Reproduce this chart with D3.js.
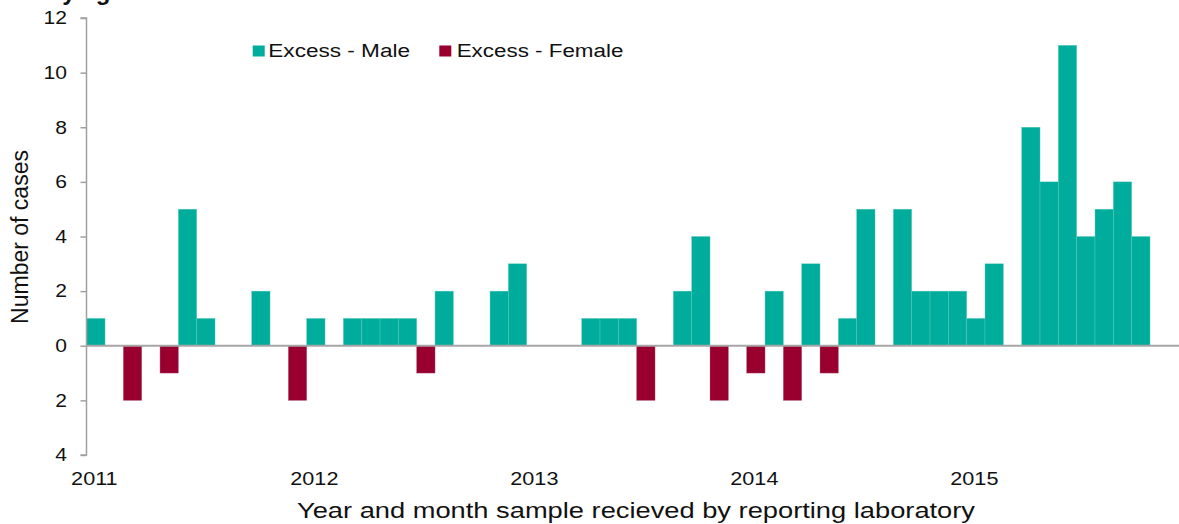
<!DOCTYPE html>
<html>
<head>
<meta charset="utf-8">
<script src="https://cdn.jsdelivr.net/npm/d3@7"></script>
<style>
  html, body { margin: 0; padding: 0; background: #fff; }
  svg { display: block; font-family: "Liberation Sans", Arial, sans-serif; }
</style>
</head>
<body>
<svg id="chart" width="1179" height="524"></svg>
<script>
// ---- Data ----
const months = [
  "2011-01","2011-02","2011-03","2011-04","2011-05","2011-06","2011-07","2011-08","2011-09","2011-10","2011-11","2011-12",
  "2012-01","2012-02","2012-03","2012-04","2012-05","2012-06","2012-07","2012-08","2012-09","2012-10","2012-11","2012-12",
  "2013-01","2013-02","2013-03","2013-04","2013-05","2013-06","2013-07","2013-08","2013-09","2013-10","2013-11","2013-12",
  "2014-01","2014-02","2014-03","2014-04","2014-05","2014-06","2014-07","2014-08","2014-09","2014-10","2014-11","2014-12",
  "2015-01","2015-02","2015-03","2015-04","2015-05","2015-06","2015-07","2015-08","2015-09","2015-10","2015-11","2015-12"
];
const excessMale = [
  1,0,0,0,0,5,1,0,0,2,0,0,
  1,0,1,1,1,1,0,2,0,0,2,3,
  0,0,0,1,1,1,0,0,2,4,0,0,
  0,2,0,3,0,1,5,0,5,2,2,2,
  1,3,0,8,6,11,4,5,6,4,0,0
];
const excessFemale = [
  0,0,2,0,1,0,0,0,0,0,0,2,
  0,0,0,0,0,0,1,0,0,0,0,0,
  0,0,0,0,0,0,2,0,0,0,2,0,
  1,0,2,0,1,0,0,0,0,0,0,0,
  0,0,0,0,0,0,0,0,0,0,0,0
];
const yearTicks = ["2011-01","2012-01","2013-01","2014-01","2015-01"];
const yearLabels = ["2011","2012","2013","2014","2015"];
const yTicks = [-4,-2,0,2,4,6,8,10,12];
const seriesNames = ["Excess - Male", "Excess - Female"];
const colors = ["#00ad9d", "#990030"];

// ---- Layout ----
const svg = d3.select("#chart");
const x0 = 86.7, step = 18.333;
const x = d3.scaleBand().domain(months).range([x0, x0 + step * months.length]).padding(0);
const y = d3.scaleLinear().domain([-4, 12]).range([455, 18]);
const SX = 1.17; // horizontal text stretch of the reference

function stretchedText(g, tx, ty, txt, opts) {
  const t = g.append("text")
    .attr("transform", `translate(${tx},${ty}) scale(${opts.sx || SX},1)`)
    .attr("font-size", opts.size)
    .attr("text-anchor", opts.anchor || "start")
    .attr("fill", opts.fill || "#111")
    .text(txt);
  if (opts.weight) t.attr("font-weight", opts.weight);
  return t;
}

// partially visible title (cut off at top in the reference)
svg.append("text").attr("x", 45).attr("y", 0).attr("font-size", 24)
  .attr("font-weight", "bold").attr("fill", "#111").text("By age");

// bars
svg.append("g").selectAll("rect.m")
  .data(months.map((m, i) => ({m, v: excessMale[i]})).filter(d => d.v > 0))
  .join("rect")
  .attr("x", d => x(d.m)).attr("width", x.bandwidth())
  .attr("y", d => y(d.v)).attr("height", d => y(0) - y(d.v))
  .attr("fill", colors[0])
  .attr("stroke", "#5ccbbf").attr("stroke-width", 0.4);

svg.append("g").selectAll("rect.f")
  .data(months.map((m, i) => ({m, v: excessFemale[i]})).filter(d => d.v > 0))
  .join("rect")
  .attr("x", d => x(d.m)).attr("width", x.bandwidth())
  .attr("y", y(0)).attr("height", d => y(-d.v) - y(0))
  .attr("fill", colors[1])
  .attr("stroke", "#a85a72").attr("stroke-width", 0.4);

// zero line
svg.append("line")
  .attr("x1", x0).attr("x2", 1179)
  .attr("y1", y(0)).attr("y2", y(0))
  .attr("stroke", "#a6a6a6").attr("stroke-width", 2);

// y axis
const yAxis = d3.axisLeft(y).tickValues(yTicks).tickSize(6).tickFormat(d => Math.abs(d));
const gy = svg.append("g").attr("transform", `translate(${x0 - 0.2},0)`).call(yAxis);
gy.select(".domain").attr("stroke", "#a0a0a0").attr("stroke-width", 1.5).attr("d", `M-6,${y(12)}H0V${y(-4)}H-6`);
gy.selectAll(".tick line").attr("stroke", "#a0a0a0").attr("stroke-width", 1.5);
gy.selectAll(".tick text").remove();
yTicks.forEach(v => {
  stretchedText(svg, 67, y(v) + 6.3, String(Math.abs(v)), {size: 18, anchor: "end"});
});

// x year labels
yearTicks.forEach((m, i) => {
  stretchedText(svg, x(m) + x.bandwidth() / 2 - 1.5, 485, yearLabels[i], {size: 18.5, anchor: "middle"});
});

// axis titles
svg.append("text")
  .attr("x", 636).attr("y", 518)
  .attr("font-size", 22).attr("text-anchor", "middle").attr("fill", "#111")
  .attr("textLength", 678).attr("lengthAdjust", "spacingAndGlyphs")
  .text("Year and month sample recieved by reporting laboratory");

svg.append("text")
  .attr("transform", "translate(28,237) rotate(-90)")
  .attr("font-size", 23).attr("text-anchor", "middle").attr("fill", "#111")
  .text("Number of cases");

// legend
const legendItems = [
  {name: seriesNames[0], color: colors[0], sx: 252.7, tx: 268.3, len: 141.7},
  {name: seriesNames[1], color: colors[1], sx: 439.3, tx: 456.7, len: 166.7}
];
legendItems.forEach(d => {
  svg.append("rect").attr("x", d.sx).attr("y", 45.5).attr("width", 12).attr("height", 11).attr("fill", d.color);
  svg.append("text").attr("x", d.tx).attr("y", 57).attr("font-size", 18).attr("fill", "#111")
    .attr("textLength", d.len).attr("lengthAdjust", "spacingAndGlyphs").text(d.name);
});
</script>
</body>
</html>
